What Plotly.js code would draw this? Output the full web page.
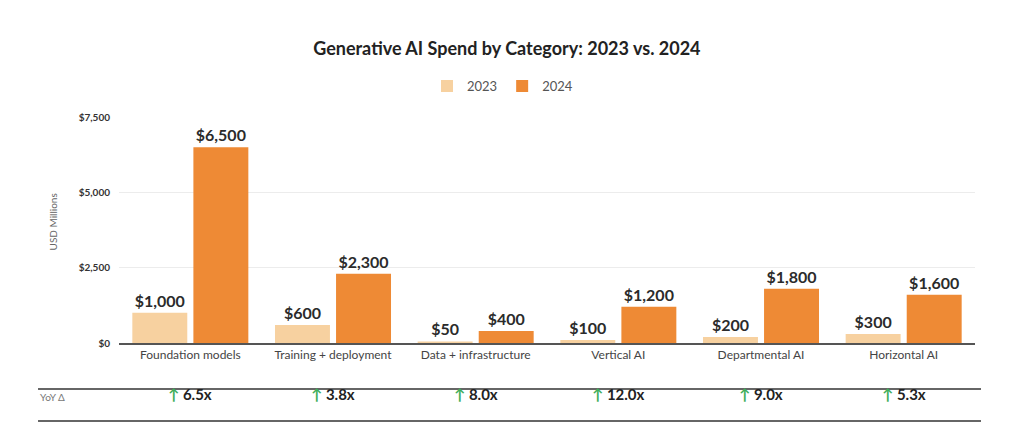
<!DOCTYPE html>
<html>
<head>
<meta charset="utf-8">
<script src="https://cdn.plot.ly/plotly-3.0.1.min.js"></script>
<style>html,body{margin:0;padding:0;background:#fff;}#chart{width:1024px;height:447px;}</style>
</head>
<body>
<div id="chart"></div>
<script>
const categories = ["Foundation models", "Training + deployment", "Data + infrastructure", "Vertical AI", "Departmental AI", "Horizontal AI"];
const spend2023 = [1000, 600, 50, 100, 200, 300];
const spend2024 = [6500, 2300, 400, 1200, 1800, 1600];
const yoyLabels = ["6.5x", "3.8x", "8.0x", "12.0x", "9.0x", "5.3x"];
const yTickVals = [0, 2500, 5000, 7500];
const yTickText = ["$0", "$2,500", "$5,000", "$7,500"];

const FONT = "Lato, 'Open Sans', sans-serif";
const fmt = v => "$" + v.toLocaleString("en-US");

const traces = [
  {type: "bar", name: "2023", x: categories, y: spend2023,
   marker: {color: "#F7D1A0"}, text: spend2023.map(fmt), texttemplate: "%{text}",
   textposition: "outside", cliponaxis: false,
   textfont: {family: FONT, size: 16, color: "#2b2b2b", weight: 700}, hoverinfo: "skip"},
  {type: "bar", name: "2024", x: categories, y: spend2024,
   marker: {color: "#EE8A35"}, text: spend2024.map(fmt), texttemplate: "%{text}",
   textposition: "outside", cliponaxis: false,
   textfont: {family: FONT, size: 16, color: "#2b2b2b", weight: 700}, hoverinfo: "skip"}
];

const annotations = [
  {xref: "paper", yref: "paper", x: -0.086, y: 0.535, text: "USD Millions", textangle: -90,
   showarrow: false, font: {family: FONT, size: 10, color: "#666"}},
  {xref: "paper", yref: "paper", x: -0.0946, y: -0.274, xanchor: "left", text: "YoY Δ",
   showarrow: false, font: {family: FONT, size: 10, color: "#777"}}
];
categories.forEach((c, i) => {
  annotations.push({xref: "x", yref: "paper", x: c, y: -0.274, showarrow: false,
    text: '<span style="color:#3fae5a">↑</span> ' + yoyLabels[i],
    font: {family: FONT, size: 15, color: "#222", weight: 700}});
});

const layout = {
  width: 1024, height: 447,
  margin: {l: 119, r: 49, t: 117, b: 104},
  paper_bgcolor: "#fff", plot_bgcolor: "#fff",
  barmode: "group", bargap: 0.144, bargroupgap: 0.1,
  title: {text: "<b>Generative AI Spend by Category: 2023 vs. 2024</b>",
    font: {family: FONT, size: 18, color: "#222"},
    x: 0.495, xanchor: "center", y: 0.89, yanchor: "middle", xref: "container", yref: "container"},
  showlegend: true,
  legend: {orientation: "h", x: 0.448, xanchor: "center", y: 1.137, yanchor: "middle",
    font: {family: FONT, size: 13, color: "#555"}, itemwidth: 30, traceorder: "normal"},
  xaxis: {type: "category", showgrid: false, showline: true, linecolor: "#555", linewidth: 1.5,
    ticks: "", tickfont: {family: FONT, size: 12, color: "#444"}, fixedrange: true},
  yaxis: {range: [0, 7500], tickvals: yTickVals, ticktext: yTickText, showgrid: true,
    gridcolor: "#ececec", gridwidth: 1, zeroline: false, showline: false,
    tickfont: {family: FONT, size: 10, color: "#333", weight: 700}, ticklabelstandoff: 8, fixedrange: true},
  shapes: [
    {type: "line", xref: "paper", yref: "paper", x0: -0.0946, x1: 1.007, y0: -0.2035, y1: -0.2035,
     line: {color: "#666", width: 2}},
    {type: "line", xref: "paper", yref: "paper", x0: -0.0946, x1: 1.007, y0: -0.345, y1: -0.345,
     line: {color: "#666", width: 2}}
  ],
  annotations: annotations
};

Plotly.newPlot("chart", traces, layout, {displayModeBar: false, staticPlot: true});
</script>
</body>
</html>
